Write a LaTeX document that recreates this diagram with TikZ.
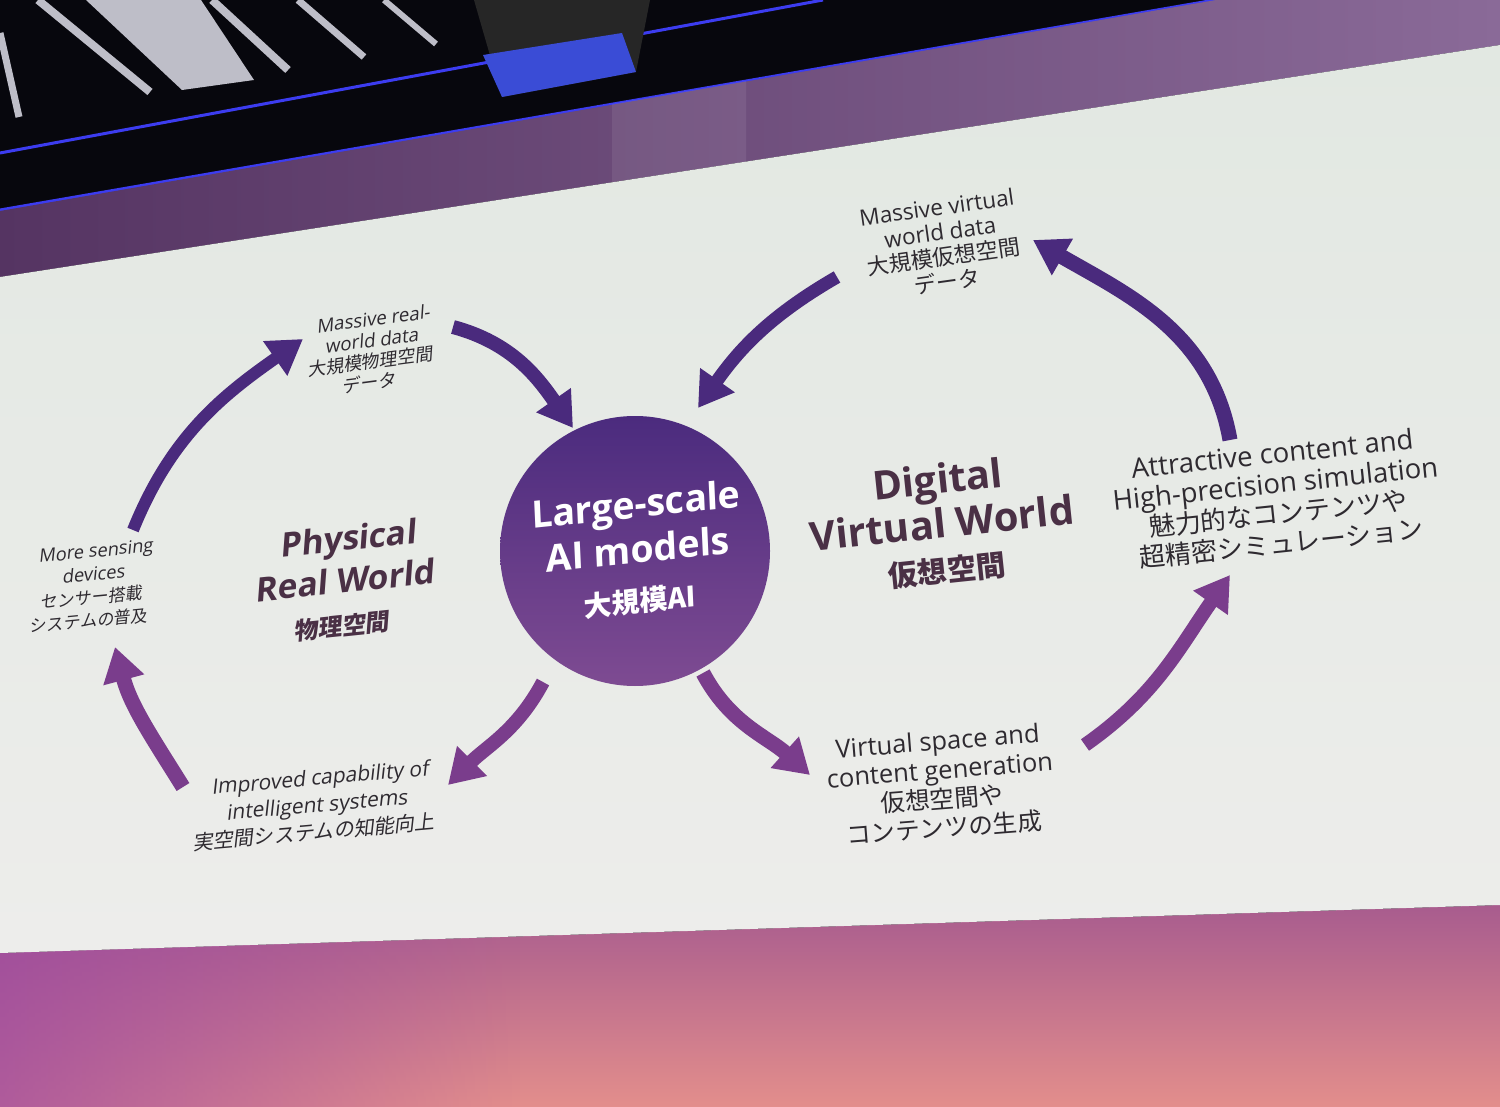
\documentclass[tikz,border=0pt]{standalone}
\usepackage{fontspec}
\setmainfont{Open Sans}
\newfontfamily\jp{Noto Sans CJK JP}
\usetikzlibrary{arrows.meta,fadings}
\definecolor{indigoA}{HTML}{4A2A7D}
\definecolor{magA}{HTML}{7A3D8C}
\definecolor{txt}{HTML}{2E2A30}
\definecolor{head}{HTML}{4A3045}
\definecolor{slideTop}{HTML}{E2E8E2}
\definecolor{slideBot}{HTML}{EDEDEB}
\definecolor{bandL}{HTML}{553462}
\definecolor{bandR}{HTML}{8A6A98}
\definecolor{ceil}{HTML}{07070D}
\definecolor{blueline}{HTML}{3C3CF0}
\definecolor{floorTop}{HTML}{A85C8E}
\definecolor{floorBot}{HTML}{E38E8C}
\definecolor{floorL}{HTML}{9A46A2}
\definecolor{circTop}{HTML}{4B2B7E}
\definecolor{circBot}{HTML}{7E4B92}
\definecolor{slatc}{HTML}{BEBEC8}
\definecolor{projface}{HTML}{3A4CD6}
\tikzset{
  lbl/.style={text=txt, align=center, inner sep=0pt},
  hdg/.style={text=head, align=center, inner sep=0pt},
  arrI/.style={draw=indigoA, -{Triangle[length=34pt,width=40pt]}},
  arrM/.style={draw=magA, -{Triangle[length=34pt,width=40pt]}},
  slat/.style={draw=slatc},
}
\newcommand{\fs}[2]{\fontsize{#1}{#2}\selectfont}
\begin{document}
\begin{tikzpicture}[x=1pt,y=1pt]
\useasboundingbox (0,0) rectangle (1500,-1107);
% room background
\fill[ceil] (0,0) rectangle (1500,-1107);
\fill[slatc] (86,0) -- (201,0) -- (254,-80) -- (182,-90) -- cycle;
\draw[slat, line width=7] (0,-33) -- (19,-117);
\draw[slat, line width=8] (38,0) -- (150,-92);
\draw[slat, line width=8] (212,0) -- (288,-70);
\draw[slat, line width=7] (298,0) -- (364,-57);
\draw[slat, line width=6] (384,0) -- (436,-44);
\draw[blueline, line width=3] (0,-153) -- (823,0);
\draw[blueline, line width=3] (0,-210) -- (1215,0);
% projector
\fill[black!85] (474,0) -- (650,0) -- (636,-72) -- (502,-97) -- cycle;
\fill[projface] (483,-55) -- (622,-33) -- (636,-72) -- (502,-97) -- cycle;
% purple band above slide
\shade[left color=bandL, right color=bandR] (0,-211) -- (1216,0) -- (1500,0) -- (1500,-45) -- (0,-277) -- cycle;
\fill[white, opacity=0.08] (612,-104) -- (746,-81) -- (746,-162) -- (612,-182) -- cycle;
% floor glow
\shade[top color=floorTop, bottom color=floorBot] (0,-953) -- (1500,-905) -- (1500,-1107) -- (0,-1107) -- cycle;
\fill[floorL, path fading=east, opacity=0.7] (0,-953) -- (520,-936) -- (520,-1107) -- (0,-1107) -- cycle;
% slide
\shade[top color=slideTop, bottom color=slideBot] (0,-277) -- (1500,-45) -- (1500,-905) -- (0,-953) -- cycle;

% central circle
\node[circle, minimum size=270pt, inner sep=0pt, top color=circTop, bottom color=circBot] (ai) at (635,-551) {};
\node[text=white, align=center, inner sep=0pt, rotate=6, xslant=0.06,
      font=\bfseries\fs{37.5}{45}] (ailbl) at (638,-552)
  {Large-scale\\AI models\\[4pt]{\fs{28}{32}\jp 大規模AI}};

% headings
\node[hdg, rotate=6, xslant=0.18, font=\bfseries\fs{33.5}{42}] (phys) at (346,-581)
  {Physical\\Real World\\{\fs{24}{30}\jp 物理空間}};
\node[hdg, rotate=6, font=\bfseries\fs{40}{44}] (digi) at (942,-524)
  {Digital\\Virtual World\\{\fs{29.5}{34}\jp 仮想空間}};

% labels
\node[lbl, rotate=7.5, xslant=0.2, font=\fs{18.8}{21}] (realdata) at (372,-351)
  {Massive real-\\world data\\{\fs{18}{21}\jp 大規模物理空間}\\{\fs{18}{21}\jp データ}};
\node[lbl, rotate=5.5, xslant=0.2, font=\fs{18.3}{23}] (sensing) at (93,-586)
  {More sensing\\devices\\{\fs{17}{23}\jp センサー搭載}\\{\fs{17}{23}\jp システムの普及}};
\node[lbl, rotate=5, xslant=0.2, font=\fs{21}{27}] (improved) at (318,-805)
  {Improved capability of\\intelligent systems\\{\fs{20.3}{27}\jp 実空間システムの知能向上}};
\node[lbl, rotate=8, font=\fs{22.5}{25}] (virtdata) at (942,-245)
  {Massive virtual\\world data\\{\fs{22}{25}\jp 大規模仮想空間}\\{\fs{22}{25}\jp データ}};
\node[lbl, rotate=6, font=\fs{27.5}{30}] (attract) at (1277,-499)
  {Attractive content and\\High-precision simulation\\{\fs{26}{30}\jp 魅力的なコンテンツや}\\{\fs{26}{30}\jp 超精密シミュレーション}};
\node[lbl, rotate=4.5, font=\fs{25.5}{29}] (vspace) at (941,-785)
  {Virtual space and\\content generation\\{\fs{24.5}{29}\jp 仮想空間や}\\{\fs{24.5}{29}\jp コンテンツの生成}};

% arrow end points
\coordinate (a1) at (133,-530); \coordinate (a2) at (303,-339);
\coordinate (b1) at (183,-787); \coordinate (b2) at (115,-647);
\coordinate (c1) at (453,-327); \coordinate (c2) at (573,-428);
\coordinate (d1) at (837,-277); \coordinate (d2) at (698,-408);
\coordinate (e1) at (543,-682); \coordinate (e2) at (448,-785);
\coordinate (f1) at (703,-673); \coordinate (f2) at (810,-775);
\coordinate (g1) at (1085,-745); \coordinate (g2) at (1230,-575);
\coordinate (h1) at (1230,-440); \coordinate (h2) at (1033,-240);

\draw[arrI, line width=12pt] (a1) to[out=68,in=215] (a2);
\draw[arrM, line width=15pt] (b1) to[out=122,in=-75] (b2);
\draw[arrI, line width=14pt] (c1) to[out=-15,in=125] (c2);
\draw[arrI, line width=13pt] (d1) to[out=210,in=55] (d2);
\draw[arrM, line width=14pt] (e1) to[out=242,in=45] (e2);
\draw[arrM, line width=15pt] (f1) to[out=-62,in=138] (f2);
\draw[arrM, line width=14pt] (g1) to[out=35,in=235] (g2);
\draw[arrI, line width=15pt] (h1) to[out=100,in=-30] (h2);
\end{tikzpicture}
\end{document}
